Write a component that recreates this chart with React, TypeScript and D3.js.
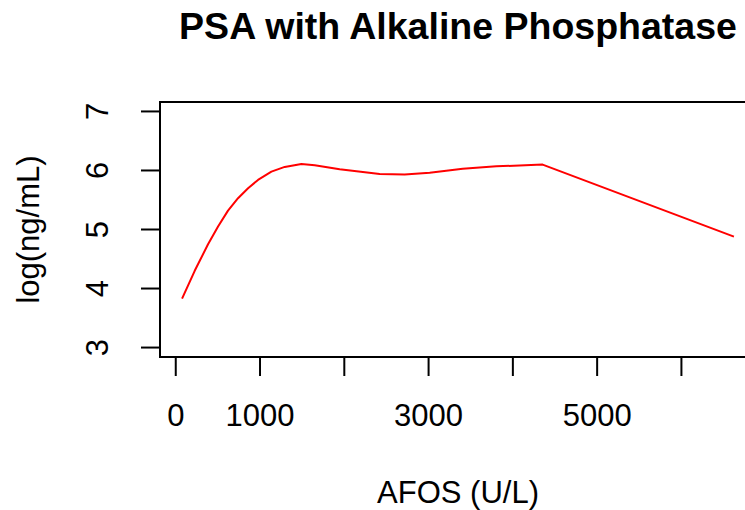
import { useEffect, useRef } from "react";
import * as d3 from "d3";

// alkaline phosphatase (U/L) vs smoothed log PSA
const afos = [75, 225, 383, 502, 620, 739, 858, 976, 1135, 1293, 1491, 1649, 1945, 2420, 2716, 3013, 3405, 3804, 4353, 6623];
const logPsa = [3.83, 4.3, 4.75, 5.05, 5.32, 5.53, 5.7, 5.84, 5.98, 6.06, 6.11, 6.09, 6.02, 5.94, 5.93, 5.96, 6.03, 6.07, 6.1, 4.88];

const xTicks = [0, 1000, 2000, 3000, 4000, 5000, 6000];
const xTickLabels = ["0", "1000", "", "3000", "", "5000", ""];
const yTicks = [3, 4, 5, 6, 7];

function App() {
    const svgRef = useRef<SVGSVGElement>(null);

    useEffect(() => {
        const width = 745;
        const height = 510;

        const left = 160;
        const right = 756;
        const top = 102;
        const bottom = 357;

        // R style 4% padding around the data range
        const xmin = d3.min(afos)!;
        const xmax = d3.max(afos)!;
        const xpad = (xmax - xmin) * 0.04;
        const ypad = (7 - 3) * 0.04;

        const x = d3.scaleLinear().domain([xmin - xpad, xmax + xpad]).range([left, right]);
        const y = d3.scaleLinear().domain([3 - ypad, 7 + ypad]).range([bottom, top]);

        const svg = d3.select(svgRef.current);
        svg.selectAll("*").remove();
        svg.attr("width", width).attr("height", height);

        const font = "'Liberation Sans', Arial, sans-serif";

        svg.append("rect")
            .attr("width", width)
            .attr("height", height)
            .attr("fill", "white");

        // title
        svg.append("text")
            .attr("x", (left + right) / 2)
            .attr("y", 39)
            .attr("text-anchor", "middle")
            .attr("font-family", font)
            .attr("font-weight", "bold")
            .attr("font-size", 37.5)
            .text("PSA with Alkaline Phosphatase");

        // line
        const line = d3.line<number>()
            .x((d, i) => x(afos[i]))
            .y(d => y(d));

        svg.append("path")
            .datum(logPsa)
            .attr("d", line)
            .attr("fill", "none")
            .attr("stroke", "#ff0000")
            .attr("stroke-width", 2)
            .attr("stroke-linejoin", "round");

        // box
        svg.append("rect")
            .attr("x", left)
            .attr("y", top)
            .attr("width", right - left)
            .attr("height", bottom - top)
            .attr("fill", "none")
            .attr("stroke", "black")
            .attr("stroke-width", 2);

        // x axis ticks
        const xg = svg.append("g");
        xg.selectAll("line")
            .data(xTicks)
            .enter()
            .append("line")
            .attr("x1", d => x(d))
            .attr("x2", d => x(d))
            .attr("y1", bottom)
            .attr("y2", bottom + 19)
            .attr("stroke", "black")
            .attr("stroke-width", 2);

        xg.selectAll("text")
            .data(xTicks)
            .enter()
            .append("text")
            .attr("x", d => x(d))
            .attr("y", 426)
            .attr("text-anchor", "middle")
            .attr("font-family", font)
            .attr("font-size", 31)
            .text((d, i) => xTickLabels[i]);

        // y axis ticks
        const yg = svg.append("g");
        yg.selectAll("line")
            .data(yTicks)
            .enter()
            .append("line")
            .attr("x1", left - 19)
            .attr("x2", left)
            .attr("y1", d => y(d))
            .attr("y2", d => y(d))
            .attr("stroke", "black")
            .attr("stroke-width", 2);

        yg.selectAll("text")
            .data(yTicks)
            .enter()
            .append("text")
            .attr("transform", d => `translate(108,${y(d)}) rotate(-90)`)
            .attr("text-anchor", "middle")
            .attr("font-family", font)
            .attr("font-size", 31)
            .text(d => String(d));

        // axis titles
        svg.append("text")
            .attr("x", (left + right) / 2)
            .attr("y", 503)
            .attr("text-anchor", "middle")
            .attr("font-family", font)
            .attr("font-size", 31)
            .text("AFOS (U/L)");

        svg.append("text")
            .attr("transform", `translate(39,${(top + bottom) / 2}) rotate(-90)`)
            .attr("text-anchor", "middle")
            .attr("font-family", font)
            .attr("font-size", 31)
            .text("log(ng/mL)");
    }, []);

    return (
        <svg
            ref={svgRef}
            style={{ position: "absolute", left: 0, top: 0 }}
        />
    );
}

export default App;
